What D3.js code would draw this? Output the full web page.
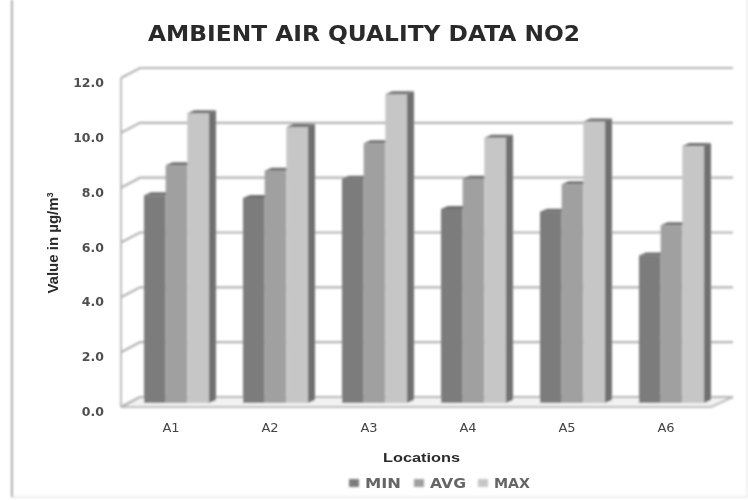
<!DOCTYPE html>
<html><head><meta charset="utf-8">
<script src="https://cdnjs.cloudflare.com/ajax/libs/d3/7.8.5/d3.min.js"></script>
<style>html,body{margin:0;padding:0;background:#fff}svg{display:block}</style></head>
<body><svg id="c" width="748" height="500"></svg>
<script>
const categories = ["A1","A2","A3","A4","A5","A6"];
const seriesNames = ["MIN","AVG","MAX"];
const minValues = [7.6,7.5,8.2,7.1,7.0,5.4];
const avgValues = [8.7,8.5,9.5,8.2,8.0,6.5];
const maxValues = [10.6,10.1,11.3,9.7,10.3,9.4];
const tickValues = [0,2,4,6,8,10,12];
const seriesValues = [minValues,avgValues,maxValues];
const colors = ["#7c7c7c","#a0a0a0","#c6c6c6"];

const svg = d3.select("#c");
const defs = svg.append("defs");
defs.append("filter").attr("id","soft").append("feGaussianBlur").attr("stdDeviation",0.9);
defs.append("filter").attr("id","softT").append("feGaussianBlur").attr("stdDeviation",0.6);

const fr = svg.append("g").attr("filter","url(#soft)");
fr.append("rect").attr("x",12).attr("y",-4).attr("width",735).attr("height",501)
  .attr("fill","#fff").attr("stroke","#e2e2e2").attr("stroke-width",1.2);
fr.append("line").attr("x1",12).attr("x2",12).attr("y1",0).attr("y2",497).attr("stroke","#a8a8a8").attr("stroke-width",2);

const g = svg.append("g").attr("filter","url(#soft)");
const dx = 19, dy = -10;
const yFront = d3.scaleLinear().domain([0,12]).range([407,78]);
const yBar = d3.scaleLinear().domain([0,12]).range([403,75]);
const xBand = d3.scaleBand().domain(categories).range([127,721]);
const xSeries = d3.scaleBand().domain([0,1,2]).range([17,82]);
const floorFrontR = 711, backR = 733;

g.append("path").attr("fill","#f2f2f2").attr("stroke","#bdbdbd").attr("stroke-width",2)
 .attr("d",`M121 ${yFront(0)}L${121+dx} ${yFront(0)+dy}L${backR} ${yFront(0)+dy}L${floorFrontR} ${yFront(0)}Z`);
g.append("line").attr("x1",121).attr("x2",121).attr("y1",yFront(12)).attr("y2",yFront(0))
 .attr("stroke","#bcbcbc").attr("stroke-width",2);
tickValues.forEach(t=>{
  g.append("path").attr("fill","none").attr("stroke","#b4b4b4").attr("stroke-width",2.2)
   .attr("d",`M121 ${yFront(t)}L${121+dx} ${yFront(t)+dy}L${backR} ${yFront(t)+dy}`);
});

categories.forEach((c,i)=>{
  const gx = xBand(c);
  seriesValues.forEach((vals,s)=>{
    const x0 = gx+xSeries(s), w = xSeries.bandwidth(), yt = yBar(vals[i]), yb = yBar(0);
    g.append("rect").attr("x",x0).attr("y",yt).attr("width",w).attr("height",yb-yt).attr("fill",colors[s]);
    g.append("path").attr("fill","#6f6f6f")
     .attr("d",`M${x0} ${yt}L${x0+7} ${yt-3}L${x0+w+7} ${yt-3}L${x0+w} ${yt}Z`);
    if(s===2) g.append("path").attr("fill","#707070")
     .attr("d",`M${x0+w} ${yt}L${x0+w+7} ${yt-3}L${x0+w+7} ${yb-3}L${x0+w} ${yb}Z`);
  });
});

const t = svg.append("g").attr("filter","url(#softT)").attr("fill","#2a2a2a").attr("font-family","DejaVu Sans, sans-serif");
t.append("text").attr("x",148).attr("y",41)
 .attr("font-size",21).attr("font-weight","bold").attr("textLength",432).attr("lengthAdjust","spacingAndGlyphs").text("AMBIENT AIR QUALITY DATA NO2");
tickValues.forEach(v=>{
  t.append("text").attr("x",104).attr("y",yFront(v)+9).attr("text-anchor","end")
   .attr("font-size",12.5).attr("font-weight","bold").attr("fill","#505050").text(d3.format(".1f")(v));
});
categories.forEach(c=>{
  t.append("text").attr("x",xBand(c)+xBand.bandwidth()/2-5.5).attr("y",432).attr("text-anchor","middle")
   .attr("font-size",13).attr("fill","#444").text(c);
});
const yl = t.append("text").attr("transform","translate(58,243) rotate(-90)").attr("text-anchor","middle")
 .attr("font-size",15).attr("font-weight","bold").attr("font-family","Liberation Sans, sans-serif");
yl.append("tspan").text("Value in µg/m");
yl.append("tspan").attr("font-size",9).attr("dy",-5).text("3");
t.append("text").attr("x",383).attr("y",462).attr("font-size",13).attr("font-weight","bold")
 .attr("font-family","Liberation Sans, sans-serif")
 .attr("textLength",77).attr("lengthAdjust","spacingAndGlyphs").text("Locations");

const legendX = [349,414,478];
seriesNames.forEach((n,i)=>{
  g.append("rect").attr("x",legendX[i]).attr("y",479).attr("width",10).attr("height",8).attr("fill",colors[i]);
  t.append("text").attr("x",legendX[i]+16).attr("y",488).attr("font-size",14.5).attr("font-weight","bold").attr("fill","#666")
   .attr("textLength",36).attr("lengthAdjust","spacingAndGlyphs").text(n);
});
</script></body></html>
